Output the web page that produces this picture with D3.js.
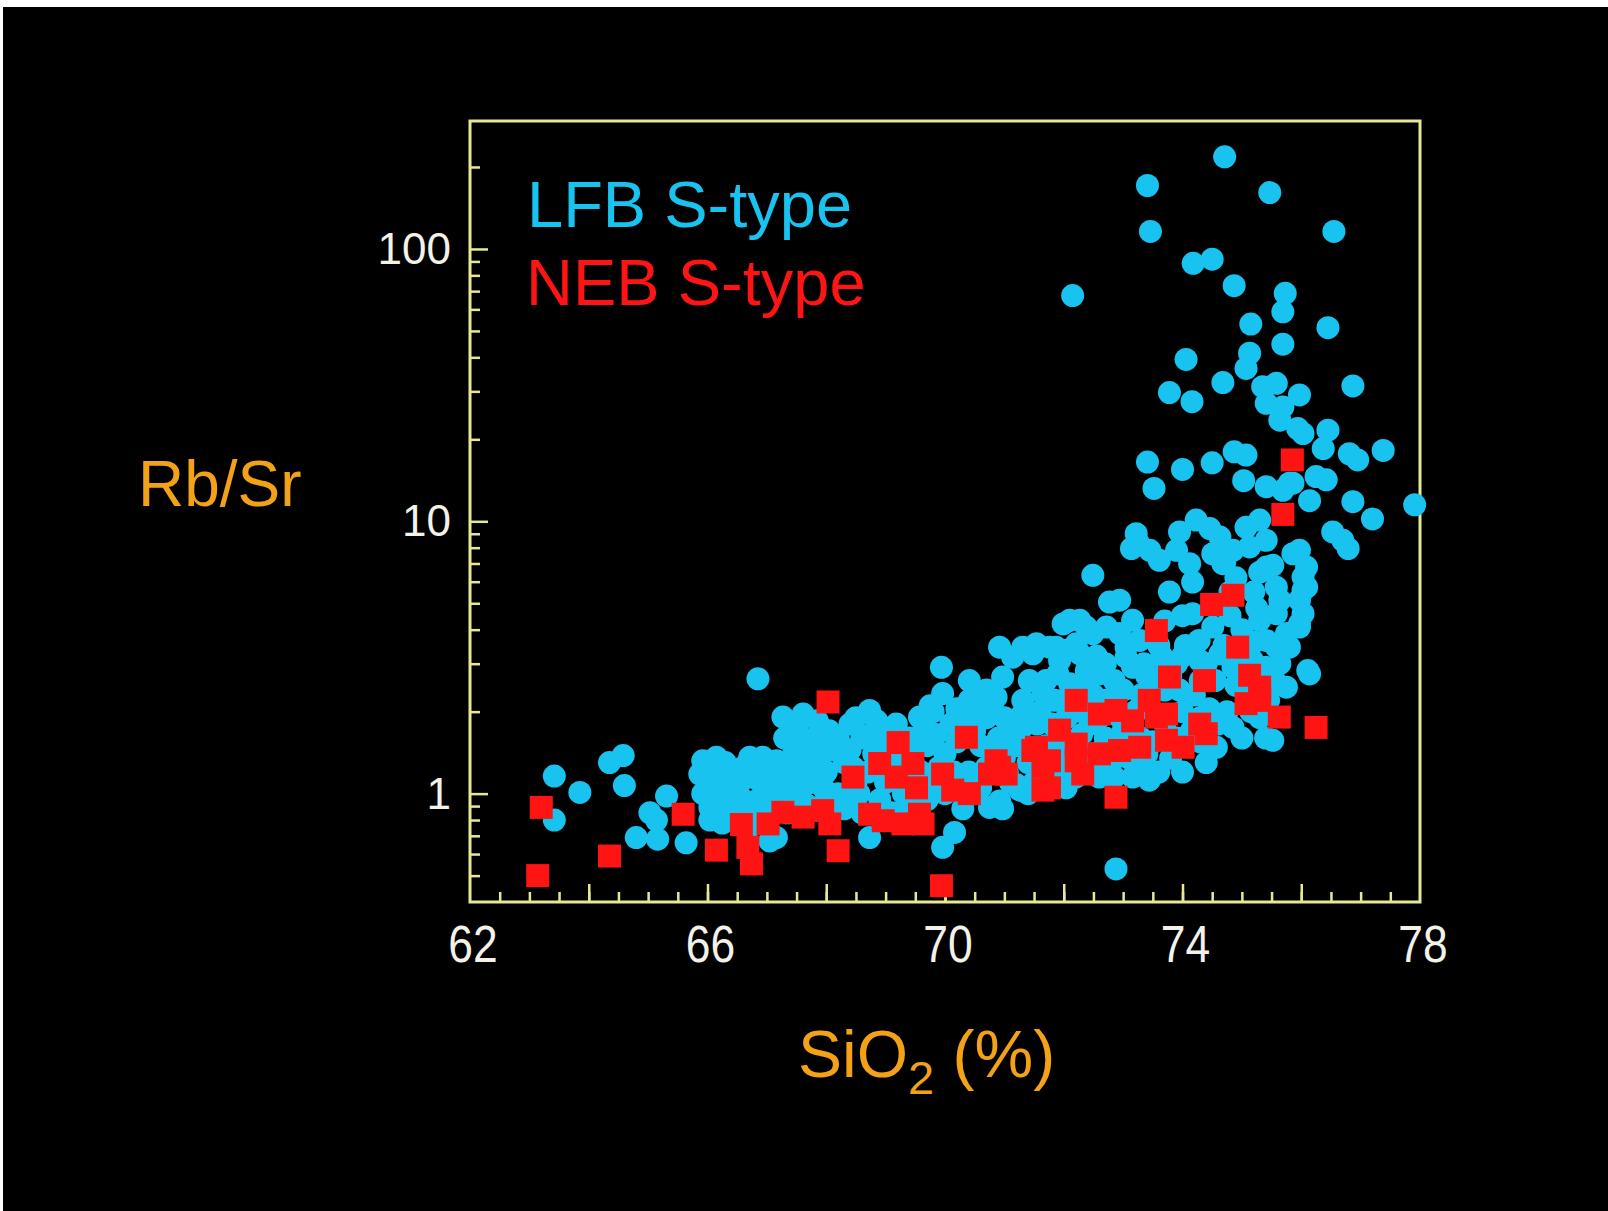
<!DOCTYPE html>
<html>
<head>
<meta charset="utf-8">
<script src="https://cdn.jsdelivr.net/npm/d3@7"></script>
<style>
  body { margin: 0; background: #fff; }
  svg { display: block; }
  text { font-family: "Liberation Sans", Arial, Helvetica, sans-serif; }
</style>
</head>
<body>
<svg width="1608" height="1211"></svg>
<script>
// LFB S-type granites: [SiO2 %, Rb/Sr]
const lfbPoints = [
  [63.42,1.16],[63.42,0.80],[63.85,1.01],[64.35,1.30],[64.58,1.38],[64.60,1.07],[65.03,0.85],[65.14,0.80],
  [64.80,0.69],[65.16,0.68],[65.31,0.98],[65.64,0.66],
  [65.87,1.18],[65.92,1.32],[66.15,1.36],[66.20,1.18],[65.92,1.00],[66.26,1.00],[66.04,0.89],[66.04,0.80],
  [66.48,1.05],[66.48,0.84],[66.30,0.92],[66.40,1.20],[66.10,1.10],[66.85,2.64],[66.30,1.30],[66.60,1.25],
  [66.55,1.10],[66.90,1.25],[66.95,0.85],[66.65,0.85],[66.25,0.78],
  [66.71,1.36],[66.93,1.36],[67.16,1.32],[66.76,1.15],[67.05,1.00],[67.27,1.05],[66.82,0.94],[67.21,0.915],
  [67.05,0.67],[67.16,0.69],[66.60,0.95],[66.90,1.10],[67.10,1.20],[67.40,1.15],[67.35,0.85],[66.70,0.75],
  [67.27,1.91],[67.61,1.96],[67.45,1.40],[67.30,1.60],[67.60,1.50],[67.70,1.25],[67.90,1.35],[67.60,1.05],
  [67.80,1.10],[68.00,1.20],[68.10,1.45],[67.90,1.70],[68.20,1.60],[68.30,1.30],[68.40,1.80],[68.20,1.00],
  [67.70,0.90],[68.00,0.95],[68.40,1.45],[68.50,1.10],[68.60,1.60],[68.30,0.88],[67.50,1.25],[67.55,0.95],
  [67.80,1.60],[67.75,1.40],[68.05,1.70],[67.95,1.05],[67.50,1.75],[67.85,1.85],
  [68.73,2.02],[68.90,1.75],[69.18,1.80],[69.57,1.91],[68.80,1.40],[69.00,1.55],[69.20,1.30],[69.40,1.60],
  [68.70,1.20],[69.00,1.10],[69.30,1.00],[68.90,0.95],[69.50,1.25],[69.40,0.90],[68.60,0.85],[68.73,0.69],
  [69.10,0.85],[68.45,1.25],[68.55,1.00],[68.75,1.65],[68.95,1.25],[69.15,1.70],[68.85,1.85],[69.25,1.15],
  [68.50,1.90],
  [69.94,2.91],[69.96,2.33],[70.41,2.20],[70.41,2.60],[69.80,2.00],[70.10,1.80],[70.30,1.90],[69.70,1.50],
  [70.00,1.40],[70.20,1.55],[70.50,1.70],[69.80,1.10],[70.00,1.00],[70.40,1.20],[70.50,1.00],[69.70,0.95],
  [69.96,0.635],[70.16,0.72],[70.30,0.88],[69.45,1.45],[69.65,1.75],[69.85,1.65],[69.60,1.20],[69.90,1.25],
  [70.15,1.20],[69.75,2.10],[70.20,2.05],
  [70.97,2.68],[70.86,2.26],[71.31,2.20],[71.42,2.60],[70.92,3.45],[71.14,3.17],[71.31,3.45],[71.48,3.26],
  [70.70,1.90],[71.00,1.90],[71.30,1.75],[70.60,1.50],[70.90,1.60],[71.20,1.50],[71.40,1.30],[70.70,1.25],
  [71.00,1.35],[70.75,0.89],[70.97,0.88],[71.26,1.03],[71.10,1.10],[70.60,1.05],[71.20,1.08],[70.92,0.94],
  [71.40,1.00],[70.55,2.05],[70.80,2.10],[70.85,1.45],[71.15,1.70],[70.65,1.15],[71.05,1.20],[71.30,1.95],
  [70.70,2.40],
  [71.54,3.55],[71.65,2.33],[71.76,3.45],[71.87,3.45],[71.93,3.08],[71.99,4.20],[72.04,3.36],[72.10,4.33],
  [72.10,2.53],[72.21,3.55],[72.27,3.26],[72.27,4.33],[72.38,4.09],[72.38,2.83],[72.49,3.87],[72.49,6.33],
  [71.60,2.00],[71.80,1.80],[72.00,2.20],[72.30,2.00],[71.70,1.50],[72.00,1.60],[72.30,1.65],[72.50,2.30],
  [71.60,1.20],[71.90,1.25],[72.20,1.15],[72.04,1.05],[72.50,1.40],[71.50,1.10],[71.55,1.80],[71.70,2.60],
  [71.85,2.20],[72.05,1.90],[71.75,1.35],[72.05,1.40],[71.65,1.05],[71.90,2.75],
  [72.60,2.75],[72.72,4.09],[72.77,5.05],[72.94,5.13],[72.94,3.87],[73.05,3.17],[73.05,3.45],[73.16,4.33],
  [73.16,2.91],[73.28,3.65],[73.22,9.00],[73.14,7.94],[73.45,7.82],[73.26,8.30],[73.41,16.5],[73.52,13.2],
  [72.60,1.15],[73.16,1.15],[73.44,1.12],[72.88,0.529],[72.70,2.20],[73.00,2.40],[73.30,2.30],[72.70,1.60],
  [73.00,1.70],[73.30,1.60],[72.80,1.30],[73.10,1.35],[73.40,1.40],[73.40,2.70],[72.60,1.90],[72.35,2.60],
  [72.55,3.20],[72.70,3.00],[72.85,2.60],[72.45,1.80],[72.65,1.45],[72.85,1.15],[72.95,1.90],[73.20,2.00],
  [72.55,1.20],
  [72.15,67.4],[73.41,171],[73.46,116],[74.18,88.6],[74.50,91.7],
  [73.61,7.19],[73.78,29.7],[73.95,9.14],[73.90,7.82],[73.78,5.50],[74.00,15.5],[74.06,39.3],[74.16,27.5],
  [74.23,10.1],[74.46,9.40],[74.50,16.4],[74.63,8.75],[74.17,5.98],[74.12,6.99],[74.17,4.58],[74.28,3.65],
  [74.29,3.08],[74.40,1.57],[74.51,4.09],[74.51,7.60],[74.63,3.26],[74.57,1.48],[73.73,2.91],[73.60,3.50],
  [73.90,3.00],[74.20,2.30],[73.70,2.40],[74.00,2.00],[73.60,1.20],[73.90,1.60],[74.30,1.90],[74.00,1.20],
  [74.40,1.30],[74.30,1.55],[73.70,4.30],[74.00,4.50],[74.05,3.50],[74.68,32.3],[74.68,6.99],[74.71,7.08],
  [74.85,7.82],[73.35,3.00],[73.50,2.00],[73.55,2.60],[73.80,2.70],[73.70,1.80],[73.95,2.40],[73.30,1.25],
  [73.80,1.35],[73.50,1.55],[73.65,3.20],[74.00,3.20],
  [74.15,1.70],[74.45,2.05],[74.55,2.60],[74.70,3.50],[74.40,3.00],[74.60,1.80],[74.30,2.60],[74.80,5.50],
  [74.90,3.00],
  [74.71,218],[74.87,73.3],[74.85,2.91],[74.87,18.0],[75.07,17.5],[75.03,14.1],[75.07,9.50],[75.13,8.05],
  [75.15,53.0],[75.13,41.4],[75.07,36.4],[75.30,10.1],[75.41,8.51],[75.30,6.50],[75.30,4.33],[75.41,3.65],
  [75.18,3.08],[75.41,2.91],[75.35,31.2],[75.41,27.1],[75.41,13.4],[75.41,6.79],[75.47,161],[75.52,6.89],
  [75.52,1.57],[74.85,1.75],[75.10,2.30],[74.90,2.50],[75.00,4.00],[74.80,4.50],[75.20,5.50],[74.90,6.20],
  [75.00,1.60],[74.75,2.00],[75.30,1.90],[75.30,2.60],[75.40,1.60],[75.20,3.60],[75.15,2.00],[75.45,2.20],
  [75.25,4.80],[75.55,2.60],
  [75.58,32.1],[75.69,26.3],[75.64,23.5],[75.69,58.8],[75.73,68.7],[75.69,44.7],[75.97,29.1],[75.94,21.9],
  [76.03,21.0],[75.69,13.0],[75.80,13.8],[75.86,13.8],[76.14,11.9],[75.86,7.60],[75.97,7.82],[76.09,6.79],
  [76.03,6.24],[76.03,5.58],[75.58,5.73],[75.64,5.13],[75.58,4.58],[76.09,5.73],[75.97,5.13],[76.03,4.58],
  [75.97,4.20],[75.75,3.87],[75.58,3.45],[75.97,4.09],[75.64,3.00],[75.80,3.45],[76.14,2.75],[75.75,2.46],
  [76.11,2.83],[76.25,14.6],[76.42,14.2],[76.37,18.5],[76.45,21.6],[76.45,51.4],[76.55,116],
  [76.53,9.14],[76.70,8.51],[76.79,7.94],[76.81,17.7],[76.87,31.4],[76.87,11.8],[76.95,16.8],[77.20,10.2],
  [77.38,18.2],[77.91,11.5]
];

// NEB S-type granites: [SiO2 %, Rb/Sr]
const nebPoints = [
  [63.20,0.89],[63.14,0.50],[64.35,0.59],[65.59,0.84],[66.15,0.62],[66.57,0.77],[66.68,0.635],[66.74,0.552],
  [67.02,0.774],[67.27,0.854],[67.61,0.82],[67.94,0.866],[68.06,0.774],[68.03,2.17],[68.20,0.617],
  [68.45,1.15],[68.73,0.84],[68.90,1.29],[68.96,0.795],[69.18,1.15],[69.21,1.54],[69.29,0.774],[69.46,1.29],
  [69.52,1.05],[69.57,0.84],[69.63,0.774],[69.94,0.459],[69.96,1.18],[70.13,1.03],[70.36,1.61],[70.41,1.00],
  [70.75,1.18],[70.86,1.32],[70.92,1.25],[71.03,1.18],[71.48,1.44],[71.54,1.48],[71.65,1.25],[71.65,1.03],
  [71.76,1.05],[71.76,1.32],[71.93,1.71],[72.21,1.52],[72.21,1.32],[72.21,2.20],[72.32,1.18],[72.60,1.96],
  [72.60,1.40],[72.88,2.02],[72.88,0.97],[72.94,1.44],[73.16,1.85],[73.28,1.48],[73.44,2.20],[73.56,1.91],
  [73.73,1.96],[73.73,1.57],[74.01,1.48],[73.56,3.97],[73.78,2.68],[74.29,1.80],[74.37,2.60],[74.40,1.66],
  [74.49,4.95],[74.85,5.35],[74.93,3.45],[75.07,2.14],[75.13,2.72],[75.30,2.20],[75.30,2.46],[75.63,1.91],
  [76.25,1.75],[75.69,10.6],[75.85,16.8]
];

const xLabels = [62, 66, 70, 74, 78];
const yLabels = [1, 10, 100];
const legendLabels = ['LFB S-type', 'NEB S-type'];

const svg = d3.select('svg');
const frameColor = '#e8e894';
const cyan = '#19c3f0';
const red = '#ff1414';
const orange = '#f3a116';

svg.append('rect')
  .attr('x', 3).attr('y', 7)
  .attr('width', 1605).attr('height', 1204)
  .attr('fill', '#000');

const xScale = d3.scaleLinear().domain([62, 78]).range([470, 1420]);
const yScale = d3.scaleLog().domain([0.4, 295]).range([902, 121]);

// inward ticks
const xMinor = d3.range(62.5, 78, 0.5);
const xMajor = d3.range(64, 78, 2);

const styleAxis = g => {
  g.select('.domain').remove();
  g.selectAll('.tick line').attr('stroke', frameColor).attr('stroke-width', 2.5);
  g.selectAll('.tick text').remove();
};

svg.append('g')
  .attr('transform', 'translate(0,902)')
  .call(d3.axisBottom(xScale).tickValues(xMinor).tickSize(-10))
  .call(styleAxis);
svg.append('g')
  .attr('transform', 'translate(0,902)')
  .call(d3.axisBottom(xScale).tickValues(xMajor).tickSize(-18))
  .call(styleAxis);

const yAll = yScale.ticks().filter(v => v > 0.4 && v < 295);
svg.append('g')
  .attr('transform', 'translate(470,0)')
  .call(d3.axisLeft(yScale).tickValues(yAll.filter(v => !yLabels.includes(v))).tickSize(-10))
  .call(styleAxis);
svg.append('g')
  .attr('transform', 'translate(470,0)')
  .call(d3.axisLeft(yScale).tickValues(yLabels).tickSize(-18))
  .call(styleAxis);

// frame
svg.append('rect')
  .attr('x', xScale(62)).attr('y', yScale(295))
  .attr('width', xScale(78) - xScale(62))
  .attr('height', yScale(0.4) - yScale(295))
  .attr('fill', 'none')
  .attr('stroke', frameColor)
  .attr('stroke-width', 3);

// tick labels
svg.append('g').selectAll('text').data(xLabels)
  .enter().append('text')
    .attr('transform', d => `translate(${xScale(d) + 3},962) scale(0.87,1)`)
    .attr('text-anchor', 'middle')
    .attr('font-size', 51)
    .attr('fill', '#f2f2e8')
    .text(d => d);

svg.append('g').selectAll('text').data(yLabels)
  .enter().append('text')
    .attr('x', 451)
    .attr('y', d => yScale(d) + 15)
    .attr('text-anchor', 'end')
    .attr('font-size', 44)
    .attr('fill', '#f2f2e8')
    .text(d => d);

// data
svg.append('g').selectAll('circle').data(lfbPoints)
  .enter().append('circle')
    .attr('cx', d => xScale(d[0]))
    .attr('cy', d => yScale(d[1]))
    .attr('r', 11.5)
    .attr('fill', cyan);

const side = 23;
svg.append('g').selectAll('rect').data(nebPoints)
  .enter().append('rect')
    .attr('x', d => xScale(d[0]) - side / 2)
    .attr('y', d => yScale(d[1]) - side / 2)
    .attr('width', side)
    .attr('height', side)
    .attr('fill', red);

// legend
svg.append('text')
  .attr('x', 527).attr('y', 227)
  .attr('font-size', 65)
  .attr('fill', cyan)
  .text(legendLabels[0]);
svg.append('text')
  .attr('x', 526).attr('y', 305)
  .attr('font-size', 65)
  .attr('fill', red)
  .text(legendLabels[1]);

// axis titles
svg.append('text')
  .attr('x', 138).attr('y', 506)
  .attr('font-size', 64)
  .attr('fill', orange)
  .text('Rb/Sr');

const xt = svg.append('text')
  .attr('x', 798).attr('y', 1077)
  .attr('font-size', 66)
  .attr('fill', orange);
xt.append('tspan').text('SiO');
xt.append('tspan').attr('font-size', 47).attr('dy', 17).text('2');
xt.append('tspan').attr('dy', -17).text(' (%)');
</script>
</body>
</html>
